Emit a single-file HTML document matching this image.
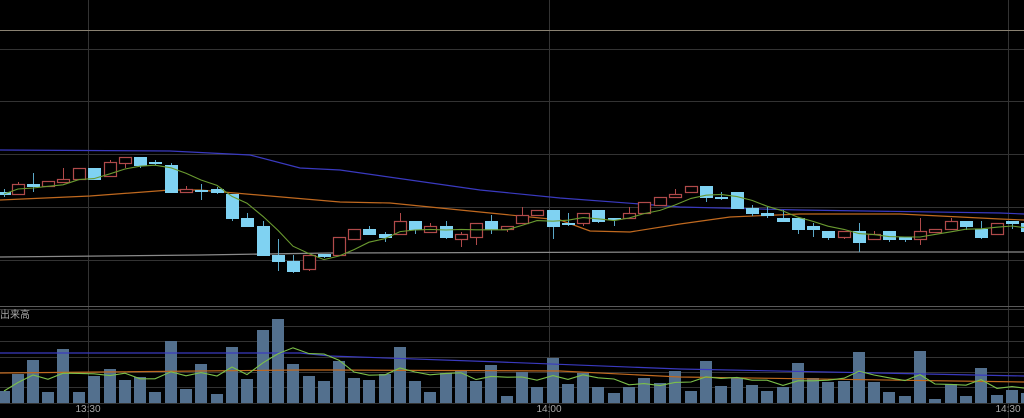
<!DOCTYPE html>
<html><head><meta charset="utf-8"><style>
html,body{margin:0;padding:0;background:#000;overflow:hidden}
svg{display:block}
text{font-family:"Liberation Sans","Noto Sans CJK JP",sans-serif;font-size:10px;fill:#a8a8a8}
</style></head><body>
<svg id="s" width="1024" height="418" viewBox="0 0 1024 418" xmlns="http://www.w3.org/2000/svg">
<rect width="1024" height="418" fill="#000"/>
<g stroke="#333" stroke-width="1">
<line x1="0" y1="49.5" x2="1024" y2="49.5"/>
<line x1="0" y1="101.5" x2="1024" y2="101.5"/>
<line x1="0" y1="154.5" x2="1024" y2="154.5"/>
<line x1="0" y1="207.5" x2="1024" y2="207.5"/>
<line x1="0" y1="260.5" x2="1024" y2="260.5"/>
<line x1="0" y1="326.5" x2="1024" y2="326.5"/>
<line x1="0" y1="341.5" x2="1024" y2="341.5"/>
<line x1="0" y1="357.5" x2="1024" y2="357.5"/>
<line x1="0" y1="372.5" x2="1024" y2="372.5"/>
<line x1="0" y1="387.5" x2="1024" y2="387.5"/>
<line x1="0" y1="403.5" x2="1024" y2="403.5"/>
<line x1="88.5" y1="0" x2="88.5" y2="418"/>
<line x1="549.5" y1="0" x2="549.5" y2="418"/>
<line x1="1008.5" y1="0" x2="1008.5" y2="418"/>
</g>
<line x1="0" y1="30.5" x2="1024" y2="30.5" stroke="#8a8272"/>
<line x1="0" y1="306.5" x2="1024" y2="306.5" stroke="#5a5a5a"/>
<line x1="0" y1="309.5" x2="1024" y2="309.5" stroke="#3a3a3a"/>
<polyline fill="none" stroke="#8a8a8a" stroke-width="1.3" points="0,257 200,255 330,253 680,252 1024,252"/>
<polyline fill="none" stroke="#3a3ac0" stroke-width="1.2" points="0,150 170,151 250,155 300,168 340,170 480,190 560,198 680,207 800,210 1000,213 1024,214"/>
<polyline fill="none" stroke="#c0691f" stroke-width="1.2" points="0,200 90,196 170,190 200,190 340,202 390,203 480,212 560,220 590,231 630,232 680,224 730,217 800,214 900,214 1000,219 1024,220"/>
<g id="cand"></g>
<g id="vol"></g>
<polyline fill="none" stroke="#3a3ac0" stroke-width="1.2" points="0,353 300,353 330,356 500,362 680,369 1024,376"/>
<polyline fill="none" stroke="#c0691f" stroke-width="1.2" points="0,373 300,370 330,370 560,371 680,377 1024,382"/>
<text x="0" y="318">出来高</text>
<text x="88" y="412" text-anchor="middle">13:30</text>
<text x="549" y="412" text-anchor="middle">14:00</text>
<text x="1008" y="412" text-anchor="middle">14:30</text>
</svg>
<script>
// [x, bodyTop, bodyBot, wickTop, wickBot, up]
var C=[
[4,192,194,189,197,0],[18,184,194,182,194,1],[33,184,186,173,192,0],[48,181,186,181,186,1],
[63,179,182,168,182,1],[79,168,179,168,179,1],[94,168,179,168,179,0],[110,162,176,160,176,1],
[125,157,163,157,168,1],[140,157,165,157,168,0],[155,162,163,160,165,0],[171,165,192,163,192,0],
[186,189,192,186,192,1],[201,190,191,184,200,0],[217,189,192,187,194,0],[232,194,218,194,221,0],
[247,218,226,213,226,0],[263,226,255,221,255,0],[278,255,261,239,271,0],[293,261,271,255,273,0],
[309,255,269,255,271,1],[324,254,256,254,258,0],[339,237,255,237,255,1],[354,229,239,229,239,1],
[369,229,234,226,234,0],[385,234,237,232,242,0],[400,221,234,213,234,1],[415,221,229,221,234,0],
[430,226,232,223,232,1],[446,226,237,221,239,0],[461,234,239,232,247,1],[476,223,237,223,245,1],
[491,221,229,215,234,0],[507,226,229,226,232,1],[522,215,223,207,223,1],[537,210,215,210,215,1],
[553,210,226,210,239,0],[568,223,224,213,226,0],[583,213,223,213,226,1],[598,210,221,210,223,0],
[614,218,219,218,226,0],[629,213,218,207,218,1],[644,202,213,202,213,1],[660,197,205,197,205,1],
[675,194,197,189,197,1],[691,186,192,186,192,1],[706,186,197,186,202,0],[721,197,198,192,200,0],
[737,192,208,192,208,0],[752,208,213,205,216,0],[767,213,215,207,218,0],[783,218,221,210,221,0],
[798,218,229,218,234,0],[813,226,229,223,237,0],[828,231,237,231,240,0],[844,231,237,231,239,1],
[859,231,242,223,252,0],[874,234,239,231,239,1],[889,231,239,231,242,0],[905,237,239,237,242,0],
[920,231,239,218,245,1],[935,229,232,229,232,1],[951,221,229,218,229,1],[966,221,226,221,230,0],
[981,229,237,221,239,0],[997,223,234,223,234,1],[1012,221,223,221,229,0],[1027,223,231,221,233,0]];
var V=[391,374,360,392,349,392,376,369,380,377,392,341,389,364,394,347,379,330,319,364,376,381,361,
378,380,374,347,381,392,373,371,381,365,396,372,387,358,384,373,387,393,387,378,383,371,
391,361,386,378,385,391,387,363,378,382,381,352,382,392,396,351,399,384,396,368,395,390,393];
var ns="http://www.w3.org/2000/svg";
function el(t,a,p){var e=document.createElementNS(ns,t);for(var k in a)e.setAttribute(k,a[k]);p.appendChild(e);return e;}
var gc=document.getElementById('cand'),gv=document.getElementById('vol'),s=document.getElementById('s');
var closes=[];
C.forEach(function(c){
 var x=c[0],up=c[5],col=up?'#b04a4a':'#7fd2f2';
 el('line',{x1:x+.5,y1:c[3],x2:x+.5,y2:c[4],stroke:up?'#b04a4a':'#5aa8c8','stroke-width':1},gc);
 var h=Math.max(1,c[2]-c[1]);
 if(up) el('rect',{x:x-5.5,y:c[1]+.5,width:12,height:h,fill:'#000',stroke:col,'stroke-width':1.2},gc);
 else el('rect',{x:x-6,y:c[1],width:13,height:h+1,fill:col},gc);
 closes.push(up?c[1]:c[2]);
});
var p=[];for(var i=0;i<closes.length;i++){var a=Math.max(0,i-4),sm=0;for(var j=a;j<=i;j++)sm+=closes[j];p.push(C[i][0]+','+(sm/(i-a+1)).toFixed(1));}
el('polyline',{points:p.join(' '),fill:'none',stroke:'#6a9a30','stroke-width':1.1},s);
var q=[];
V.forEach(function(v,i){var x=C[i][0];el('rect',{x:x-6,y:v,width:12,height:403-v,fill:'#53708e'},gv);});
for(var i=0;i<V.length;i++){var a=Math.max(0,i-4),sm=0;for(var j=a;j<=i;j++)sm+=V[j];q.push(C[i][0]+','+(sm/(i-a+1)).toFixed(1));}
el('polyline',{points:q.join(' '),fill:'none',stroke:'#7cc04a','stroke-width':1.1},s);
</script>
</body></html>
